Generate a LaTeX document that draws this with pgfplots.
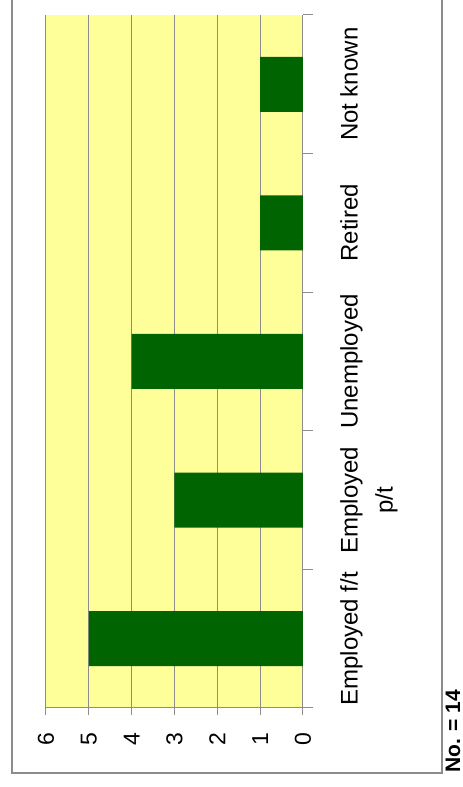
\documentclass[border=0pt]{standalone}
\usepackage{fontspec}
\setmainfont{Liberation Sans}
\usepackage{pgfplots}
\pgfplotsset{compat=1.18}
\definecolor{gridgray}{HTML}{8C8C8C}
\definecolor{bargreen}{HTML}{006400}
\definecolor{bgyellow}{HTML}{FFFF99}
\begin{document}
\begin{tikzpicture}[x=1pt,y=1pt]
\path[use as bounding box] (0,0) rectangle (463,787);
\draw[gridgray, line width=1.5pt] (12,800) -- (12,14) -- (442,14) -- (442,800);
\begin{axis}[
  at={(46pt,79pt)}, anchor=south west,
  scale only axis, width=257pt, height=693pt,
  xbar, bar width=55pt,
  x dir=reverse,
  xmin=0, xmax=6, ymin=-0.5, ymax=4.5,
  xtick={0,...,6},
  ytick={0,...,4},
  yticklabels={Employed f/t, Employed\\p/t, Unemployed, Retired, Not known},
  minor ytick={-0.5,0.5,...,4.5},
  axis x line*=bottom, axis y line*=right,
  axis line style={gridgray, line width=1pt, -},
  tick align=outside,
  major tick length=7pt, minor tick length=10pt,
  major y tick style={draw=none},
  minor y tick style={draw=gridgray, line width=1pt},
  major x tick style={draw=gridgray, line width=1pt},
  xmajorgrids, grid style={gridgray, line width=1pt},
  axis background/.style={fill=bgyellow},
  /pgf/number format/assume math mode=true,
  xticklabel style={rotate=90, anchor=east, font=\fontsize{23}{23}\selectfont},
  xticklabel shift=14pt,
  yticklabel style={rotate=90, anchor=north, align=center, inner sep=0pt, font=\fontsize{24}{35}\selectfont},
  yticklabel shift=30pt,
]
\addplot[fill=bargreen, draw=none] coordinates {(5,0) (3,1) (4,2) (1,3) (1,4)};
\end{axis}
\node[rotate=90, anchor=west, inner sep=0pt, font=\bfseries\fontsize{21}{21}\selectfont] at (453,14) {No. = 14};
\end{tikzpicture}
\end{document}
